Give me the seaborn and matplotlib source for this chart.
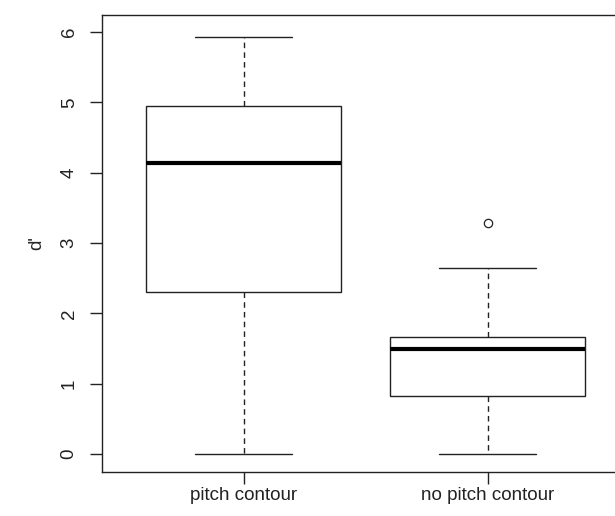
import pandas as pd
import seaborn as sns
import matplotlib.pyplot as plt

# values (quartiles, whisker ends, outlier)
groups = ["pitch contour", "no pitch contour"]
pitch_contour = [0.0, 2.30, 4.14, 4.95, 5.93]
no_pitch_contour = [0.0, 0.50, 0.82, 1.20, 1.50, 1.60, 1.67, 2.64, 3.29]

df = pd.DataFrame({
    "group": [groups[0]] * len(pitch_contour) + [groups[1]] * len(no_pitch_contour),
    "dprime": pitch_contour + no_pitch_contour,
})

sns.set_style("white")
plt.rcParams["font.family"] = ["Liberation Sans", "DejaVu Sans"]

fig = plt.figure(figsize=(6.15, 5.16), dpi=100)
ax = fig.add_axes([0.1659, 0.0853, 0.857, 0.8856])

line_col = "#222222"
sns.boxplot(
    data=df,
    x="group",
    y="dprime",
    order=groups,
    width=0.8,
    color="white",
    linecolor=line_col,
    linewidth=1.0,
    whis=1.5,
    medianprops={"linewidth": 3, "color": "black"},
    whiskerprops={"linestyle": (0, (4, 3))},
    flierprops={"marker": "o", "markerfacecolor": "none",
                "markeredgecolor": line_col, "markersize": 6,
                "markeredgewidth": 0.9},
    ax=ax,
)

ax.set_xlim(-0.58, 1.58)
ax.set_ylim(-0.253, 6.24)
ax.set_yticks(range(7))
ax.set_yticklabels([str(i) for i in range(7)], rotation=90, va="center")
ax.set_xlabel("")
ax.set_ylabel("d'", fontsize=13.5, labelpad=11)
ax.tick_params(axis="both", direction="out", length=8.5, width=1,
               color=line_col, labelsize=13.5, labelcolor="#222222",
               bottom=True, left=True)
ax.tick_params(axis="y", pad=9)
ax.tick_params(axis="x", pad=2)
for s in ax.spines.values():
    s.set_color(line_col)
    s.set_linewidth(1.0)
    s.set_visible(True)

plt.savefig("out.png", dpi=100)
